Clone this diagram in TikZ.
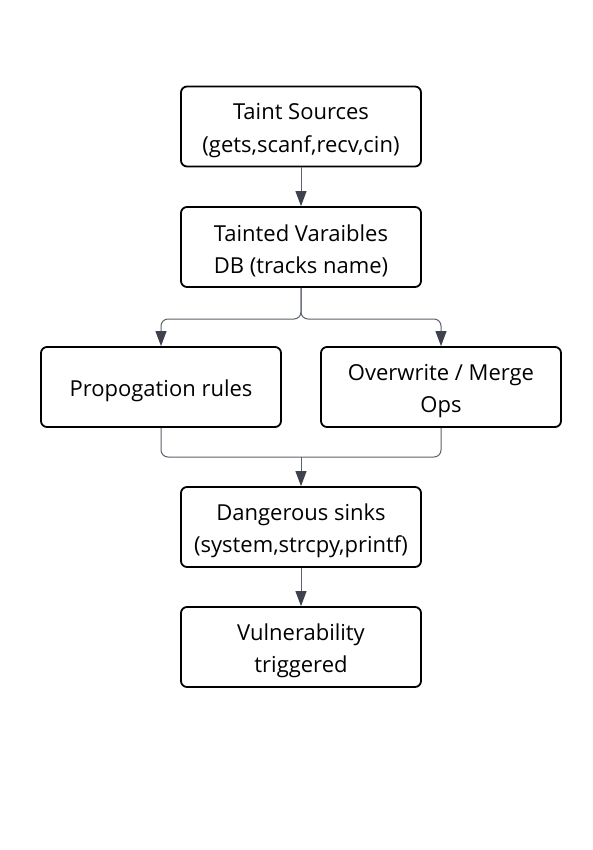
\documentclass[tikz,border=0pt]{standalone}
\usepackage{fontspec}
\setmainfont{Open Sans}
\usetikzlibrary{arrows.meta}
\definecolor{conncol}{HTML}{5E626C}
\definecolor{tipcol}{HTML}{3E424D}
\tikzset{
  box/.style={draw=black, line width=1.8pt, rounded corners=6pt, minimum width=240pt, minimum height=80pt, inner sep=0pt, fill=white},
  txt/.style={align=center, font=\fontsize{22pt}{32.5pt}\selectfont, inner sep=0pt, yshift=-4pt},
  conn/.style={draw=conncol, line width=1pt, rounded corners=7pt, -{Triangle[length=15pt,width=11pt,fill=tipcol,color=tipcol]}},
  plain/.style={draw=conncol, line width=1pt, rounded corners=7pt}
}
\begin{document}
\begin{tikzpicture}[x=1pt,y=-1pt]
\fill[white] (0,0) rectangle (592,850);
\useasboundingbox (0,0) rectangle (592,850);
\node[box, label={[txt]center:Taint Sources\\(gets,scanf,recv,cin)}] (b1) at (301,126.5) {};
\node[box, label={[txt]center:Tainted Varaibles\\DB (tracks name)}] (b2) at (301,247) {};
\node[box, label={[txt]center:Propogation rules}] (b3) at (161,387) {};
\node[box, label={[txt]center:Overwrite / Merge\\Ops}] (b4) at (441,387) {};
\node[box, label={[txt]center:Dangerous sinks\\(system,strcpy,printf)}] (b5) at (301,527) {};
\node[box, label={[txt]center:Vulnerability\\triggered}] (b6) at (301,647) {};
\coordinate (split) at (301,319);
\coordinate (merge) at (301,457);
\draw[conn] (b1) -- (b2);
\draw[conn] (b2.south) -- (split) -| (b3.north);
\draw[conn] (b2.south) -- (split) -| (b4.north);
\draw[plain] (b3.south) |- (merge);
\draw[plain] (b4.south) |- (merge);
\draw[conn] (merge) -- (b5.north);
\draw[conn] (b5) -- (b6);
\end{tikzpicture}
\end{document}
